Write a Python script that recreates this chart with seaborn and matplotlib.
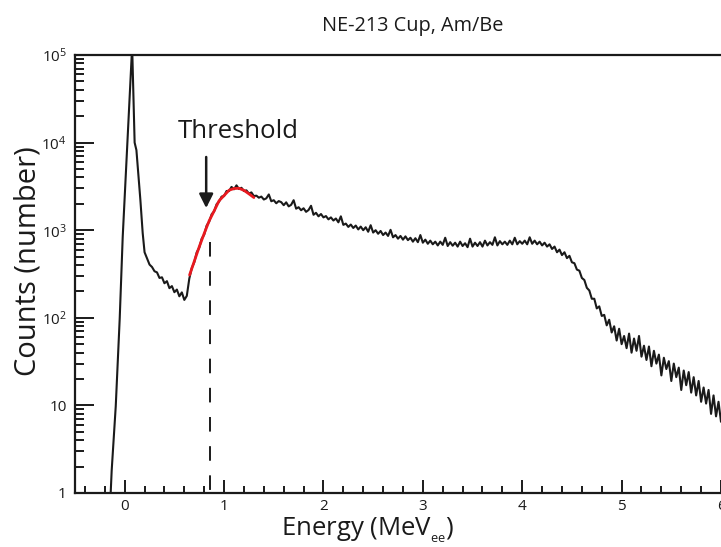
import numpy as np
import pandas as pd
import matplotlib
matplotlib.use("Agg")
import matplotlib.pyplot as plt
import seaborn as sns
from matplotlib.ticker import FixedLocator, FixedFormatter, NullFormatter

# ---------------- data ----------------
title = "NE-213 Cup, Am/Be"
xlabel = "Energy (MeV$_{_{\\mathregular{ee}}}$)"
ylabel = "Counts (number)"
annotation = "Threshold"

# photo-peak region (energy in MeVee, counts)
peak_energy = [-0.150, -0.141, -0.131, -0.090, -0.050, -0.020, 0.027, 0.075,
               0.100, 0.118, 0.158, 0.181]
peak_counts = [0.7, 1.0, 1.8, 9.8, 99, 835, 10200, 125000,
               10000, 8200, 2200, 930]

# continuum, bins of 0.025 MeVee from 0.200 to 6.000
bin_first, bin_last, bin_width = 0.200, 6.000, 0.025
counts_020_0625 = [560, 475, 405, 380, 340, 330, 285, 290, 248, 262, 218, 230,
                   196, 210, 176, 195, 160, 178]
counts_065_130 = [280, 370, 430, 560, 630, 800, 890, 1130, 1250, 1520, 1640,
                  1980, 2120, 2420, 2450, 2800, 2800, 3120, 2930, 3250, 2950,
                  3050, 2800, 2850, 2620, 2700, 2450]
counts_1325_200 = [2480, 2350, 2420, 2240, 2310, 2560, 2140, 2200, 2030, 2150,
                   2090, 1930, 2080, 1870, 1950, 2200, 1760, 1830, 1690, 1780,
                   1620, 1700, 1900, 1500, 1580, 1440, 1530, 1400]
counts_2025_300 = [1450, 1330, 1400, 1290, 1360, 1230, 1440, 1150, 1190, 1090,
                   1160, 1060, 1130, 1020, 1100, 1000, 1080, 960, 1140, 940,
                   1000, 910, 980, 880, 940, 860, 1010, 830, 880, 800,
                   860, 780, 850, 770, 820, 740, 810, 730, 880, 720]
counts_3025_400 = [780, 700, 760, 690, 740, 670, 740, 680, 820, 660,
                   730, 665, 720, 650, 740, 660, 710, 640, 800, 650,
                   720, 660, 730, 650, 760, 670, 730, 680, 830, 670,
                   750, 690, 740, 680, 760, 690, 820, 690, 750, 700]
counts_4025_500 = [760, 690, 830, 700, 760, 690, 740, 670, 720, 650,
                   690, 610, 650, 560, 600, 520, 560, 480, 510, 430,
                   420, 355, 345, 285, 270, 220, 205, 165, 165, 128,
                   135, 105, 108, 82, 95, 68, 80, 55, 75, 50]
counts_5025_600 = [62, 45, 66, 40, 58, 42, 62, 36, 48, 33,
                   47, 28, 42, 30, 38, 22, 35, 26, 32, 19,
                   30, 21, 27, 15, 25, 17, 24, 14, 21, 13,
                   19, 11, 16, 10.5, 15, 8, 13, 7.5, 11, 6.5]

# red fitted curve around the threshold
fit_energy = [0.653, 0.70, 0.75, 0.80, 0.85, 0.90, 0.95, 1.00, 1.05, 1.10,
              1.15, 1.20, 1.25, 1.30]
fit_counts = [308, 441, 646, 917, 1280, 1660, 2170, 2490, 2860, 2990,
              3010, 2850, 2600, 2360]

threshold_energy = 0.855
threshold_top = 733
arrow_energy = 0.82
arrow_from, arrow_to = 6850, 1790
label_energy, label_counts = 1.146, 13500

x_ticks = [0, 1, 2, 3, 4, 5, 6]
x_ticklabels = ["0", "1", "2", "3", "4", "5", "6"]
y_ticks = [1, 10, 100, 1000, 10000, 100000]
y_ticklabels = ["1", "10", "$10^{2}$", "$10^{3}$", "$10^{4}$", "$10^{5}$"]

# ---------------- build table ----------------
cont_energy = np.round(np.arange(bin_first, bin_last + 1e-9, bin_width), 3)
cont_counts = (counts_020_0625 + counts_065_130 + counts_1325_200 +
               counts_2025_300 + counts_3025_400 + counts_4025_500 +
               counts_5025_600)
spectrum = pd.DataFrame({
    "energy": list(peak_energy) + list(cont_energy),
    "counts": list(peak_counts) + list(cont_counts),
})
fit = pd.DataFrame({"energy": fit_energy, "counts": fit_counts})

# ---------------- style ----------------
sns.set_style("ticks")
plt.rcParams["font.family"] = ["Open Sans", "DejaVu Sans"]
plt.rcParams["mathtext.fontset"] = "custom"
plt.rcParams["mathtext.rm"] = "Open Sans"
plt.rcParams["mathtext.it"] = "Open Sans:italic"
plt.rcParams["mathtext.bf"] = "Open Sans:bold"

fig = plt.figure(figsize=(7.21, 5.47), dpi=100)
ax = fig.add_axes([75 / 721, 54 / 547, 646 / 721, 438 / 547])

sns.lineplot(data=spectrum, x="energy", y="counts", color="#1a1a1a",
             lw=1.5, sort=False, estimator=None, ax=ax)
sns.lineplot(data=fit, x="energy", y="counts", color="#e8191f",
             lw=2.0, sort=False, estimator=None, ax=ax)

ax.plot([threshold_energy, threshold_energy], [threshold_top, 1],
        color="#1a1a1a", lw=1.4, linestyle=(0, (7.5, 7.5)))

ax.annotate("", xy=(arrow_energy, arrow_to), xytext=(arrow_energy, arrow_from),
            arrowprops=dict(arrowstyle="-|>", color="#1a1a1a", lw=1.8,
                            mutation_scale=21, shrinkA=0, shrinkB=0))
ax.text(label_energy, label_counts, annotation, ha="center", va="center",
        fontsize=18.5, color="#1a1a1a")

ax.set_yscale("log")
ax.set_xlim(-0.5, 6.0)
ax.set_ylim(1, 1e5)

ax.xaxis.set_major_locator(FixedLocator(x_ticks))
ax.xaxis.set_major_formatter(FixedFormatter(x_ticklabels))
ax.xaxis.set_minor_locator(FixedLocator(np.round(np.arange(-0.4, 6.0, 0.2), 2)))
ax.xaxis.set_minor_formatter(NullFormatter())
ax.yaxis.set_major_locator(FixedLocator(y_ticks))
ax.yaxis.set_major_formatter(FixedFormatter(y_ticklabels))
minor_y = [m * 10 ** d for d in range(5) for m in range(2, 10)]
ax.yaxis.set_minor_locator(FixedLocator(minor_y))
ax.yaxis.set_minor_formatter(NullFormatter())

ax.tick_params(axis="both", which="both", direction="in", width=1.4,
               color="#1a1a1a", labelcolor="#1a1a1a", labelsize=11,
               top=False, right=False)
ax.tick_params(axis="y", which="major", length=13.5, pad=6)
ax.tick_params(axis="y", which="minor", length=6.5)
ax.tick_params(axis="x", which="major", length=9.4, pad=4)
ax.tick_params(axis="x", which="minor", length=5)

for side in ["left", "bottom", "top"]:
    ax.spines[side].set_linewidth(1.6)
    ax.spines[side].set_color("#1a1a1a")
ax.spines["right"].set_visible(False)

ax.set_xlabel(xlabel, fontsize=18.5, color="#1a1a1a")
ax.set_ylabel(ylabel, fontsize=21, color="#1a1a1a")
ax.xaxis.set_label_coords(0.454, -0.052)
ax.yaxis.set_label_coords(-0.05, 0.53)
ax.set_title(title, fontsize=14.3, color="#1a1a1a", pad=17, x=0.523)

fig.savefig("out.png", dpi=100)
